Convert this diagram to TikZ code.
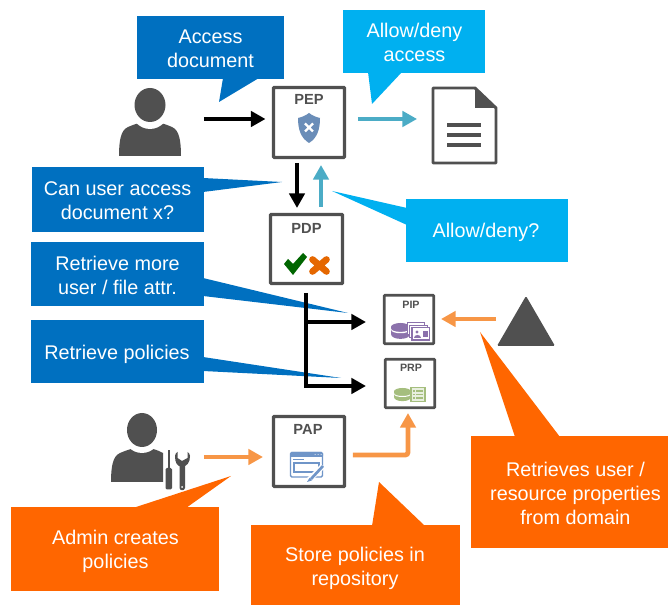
\documentclass[tikz,border=0pt]{standalone}
\usepackage{fontspec}
\setmainfont{Liberation Sans}
\usetikzlibrary{arrows.meta,calc}
\definecolor{dkblue}{HTML}{0070C0}
\definecolor{ltblue}{HTML}{00B0F0}
\definecolor{orng}{HTML}{FF6600}
\definecolor{teal2}{HTML}{4BACC6}
\definecolor{orar}{HTML}{F79646}
\definecolor{gry}{HTML}{505050}
\definecolor{shld}{HTML}{6A8DB8}
\definecolor{purp}{HTML}{8C72AC}
\definecolor{grn}{HTML}{A5BE7E}
\definecolor{winb}{HTML}{6F95C8}
\tikzset{
 sz/.style 2 args={minimum width=#1*0.75pt,minimum height=#2*0.75pt,inner sep=0pt,outer sep=0pt},
 panel/.style={fill=#1},
 calltext/.style={text=white,align=center,inner sep=0pt,font=\fontsize{14.85}{18}\selectfont},
 sysbox/.style={draw=gry,fill=white,line width=2.3pt,rounded corners=0.5pt},
 smallbox/.style={draw=gry,fill=white,line width=1.9pt,rounded corners=0.5pt},
 boxlab/.style={text=gry,font=\fontsize{11}{12}\bfseries\selectfont,inner sep=0pt,anchor=center},
 smalllab/.style={text=gry,font=\fontsize{8}{9}\bfseries\selectfont,inner sep=0pt,anchor=center},
 flow/.style={line width=3.6pt,-{Triangle[length=11pt,width=11.5pt]},draw=#1},
 spot/.style={inner sep=0pt,minimum size=1pt},
}
\begin{document}
\begin{tikzpicture}[x=0.75pt,y=-0.75pt]
\useasboundingbox (0,0) rectangle (668,605);
% callouts
\fill[dkblue] (223,78) -- (219,102) -- (259,78) -- cycle;
\node[panel=dkblue,sz={147}{63}] (c1) at (210.5,47.5) {};
\node[calltext] (c1t) at (210.5,49) {Access\\document};
\fill[ltblue] (368,72) -- (372,104) -- (402,72) -- cycle;
\node[panel=ltblue,sz={142}{63}] (c2) at (414,41.5) {};
\node[calltext] (c2t) at (414.5,42.7) {Allow/deny\\access};
\fill[dkblue] (203,178) -- (282,182) -- (203,192) -- cycle;
\node[panel=dkblue,sz={172}{65}] (c3) at (118,199.5) {};
\node[calltext] (c3t) at (117.5,200.7) {Can user access\\document x?};
\fill[ltblue] (407,208) -- (332,191) -- (407,225) -- cycle;
\node[panel=ltblue,sz={162}{63}] (c4) at (487,230.5) {};
\node[calltext] (c4t) at (486,232) {Allow/deny?};
\fill[dkblue] (203,278) -- (348,313) -- (203,296) -- cycle;
\node[panel=dkblue,sz={173}{64}] (c5) at (117.5,274) {};
\node[calltext] (c5t) at (117.5,275.2) {Retrieve more\\user / file attr.};
\fill[dkblue] (203,357) -- (341,378) -- (203,371) -- cycle;
\node[panel=dkblue,sz={173}{63}] (c6) at (117.5,351.5) {};
\node[calltext] (c6t) at (117,354) {Retrieve policies};
% system boxes
\node[sysbox,sz={71}{70}] (pep) at (309,122.5) {};
\node[boxlab] (peplab) at (309,99) {PEP};
\node[sysbox,sz={72}{69}] (pdp) at (306.5,249) {};
\node[boxlab] (pdplab) at (306.5,228.5) {PDP};
\node[smallbox,sz={49.5}{48.5}] (pip) at (409,319.5) {};
\node[smalllab] (piplab) at (411,305) {PIP};
\node[smallbox,sz={49.5}{48.5}] (prp) at (410,383.5) {};
\node[smalllab] (prplab) at (411,367.5) {PRP};
\node[sysbox,sz={71}{70}] (pap) at (309,451.5) {};
\node[boxlab] (paplab) at (308,429) {PAP};
% anchors for the end points of the flows
\node[spot] (user) at (203,119) {};
\node[spot] (doc) at (418,119) {};
\node[spot] (pepout) at (357,119) {};
\node[spot] (trunk) at (306,292) {};
\node[spot] (corner) at (306,386) {};
\node[spot] (dom) at (497,319) {};
\node[spot] (admin) at (203,457) {};
\node[spot] (papout) at (352,455) {};
\node[spot] (bend) at (408,455) {};
% flows
\draw[flow=black] (user) -- ($(pep.west |- user)+(-8,0)$);
\draw[flow=teal2] (pepout) -- (doc);
\draw[flow=black] (297,163) -- (297,208);
\draw[flow=teal2] (321,207) -- (321,165);
\draw[line width=3.6pt,black] (trunk) -- (corner);
\draw[flow=black] (306,322) -- (366,322);
\draw[flow=black] (304,386) -- (366,386);
\draw[flow=orar] (dom) -- (441,319);
\draw[flow=orar] (admin) -- (263,457);
\draw[flow=orar,rounded corners=2pt] (papout) -- (bend.center) -- (408,413);
% user
\fill[gry] (119,156) .. controls (119,140) and (121,130) .. (128,127) .. controls (133,125) and (135,124) .. (139,123) -- (161,123) .. controls (165,124) and (167,125) .. (172,127) .. controls (179,130) and (181,140) .. (181,156) -- cycle;
\fill[white] (150,107) ellipse [x radius=20,y radius=22];
\fill[gry] (150,105) ellipse [x radius=15.5,y radius=17];
% document
\draw[gry,line width=2.2pt,line join=round,fill=white] (433,88) -- (475,88) -- (496,108) -- (496,163) -- (433,163) -- cycle;
\fill[gry] (475,87) -- (497,108) -- (475,108) -- cycle;
\foreach \yy in {125,135,145}{\draw[gry,line width=2.5pt] (447,\yy) -- (481,\yy);}
% shield
\fill[shld] (309,113) .. controls (313,116) and (316,117) .. (320,118) .. controls (320,130) and (317,138) .. (309,143) .. controls (301,138) and (298,130) .. (298,118) .. controls (302,117) and (305,116) .. (309,113) -- cycle;
\draw[white,line width=1.7pt] (305,123.5) -- (313,131.5) (313,123.5) -- (305,131.5);
% check and cross
\fill[black!0!green!40!black] (284,264) -- (288,259) -- (293,264) -- (303,253) -- (307,257) -- (293,275) -- cycle;
\draw[orange!90!red!90!black,line width=5pt,line cap=round] (312.5,259.5) -- (326.5,271.5) (326.5,259.5) -- (312.5,271.5);
% PIP icon
\fill[purp] (391,327) -- (391,334) .. controls (391,340.5) and (410,340.5) .. (410,334) -- (410,327) -- cycle;
\fill[white] (391,328.5) .. controls (391,333) and (410,333) .. (410,328.5) -- (410,329.5) .. controls (410,334.5) and (391,334.5) .. (391,329.5) -- cycle;
\fill[purp] (400.5,327) ellipse [x radius=9.5,y radius=4];
\draw[purp,line width=0.7pt,fill=white] (407,322.5) rectangle (424,334);
\draw[purp,line width=0.7pt,fill=white] (409.5,325) rectangle (427,337);
\draw[purp,line width=0.8pt,fill=white] (412,327.5) rectangle (429.5,340);
\fill[purp] (417,332) circle (1.7);
\fill[purp] (413.5,338.5) .. controls (413.5,334.5) and (420.5,334.5) .. (420.5,338.5) -- cycle;
\fill[purp] (422.5,331.5) rectangle (427.5,337.5);
% PRP icon
\fill[grn] (394,392) -- (394,397) .. controls (394,402.5) and (411,402.5) .. (411,397) -- (411,392) -- cycle;
\fill[white] (394,393) .. controls (394,397) and (411,397) .. (411,393) -- (411,394) .. controls (411,398) and (394,398) .. (394,394) -- cycle;
\fill[grn] (402.5,391.5) ellipse [x radius=8.5,y radius=3.5];
\draw[grn,line width=0.8pt,fill=grn!25] (411,387.5) rectangle (425,401.5);
\foreach \yy in {391,394.5,398}{\draw[grn,line width=0.8pt] (413,\yy) -- (415,\yy) (416,\yy) -- (423,\yy);}
% admin
\fill[gry] (111,482) .. controls (111,466) and (113,456) .. (120,453) .. controls (125,451) and (127,450) .. (131,449) -- (153,449) .. controls (157,450) and (159,451) .. (163,453) -- (163,482) -- cycle;
\fill[white] (142,431) ellipse [x radius=20,y radius=22];
\fill[gry] (142,430) ellipse [x radius=15,y radius=17];
\fill[gry] (167.7,450) rectangle (170.3,470);
\fill[gry,rounded corners=1pt] (165.5,468) rectangle (172,489.5);
\fill[gry] (179.5,466) -- (185,466) -- (185,488) .. controls (185,491) and (179.5,491) .. (179.5,488) -- cycle;
\fill[gry] (175,456) .. controls (175,463) and (177,466) .. (182,467) .. controls (187,466) and (190,463) .. (190,456) .. controls (190,454) and (189,453) .. (187.5,452) -- (187.5,458) -- (182,461) -- (177.5,458) -- (177.5,452) .. controls (176,453) and (175,454) .. (175,456) -- cycle;
\fill[white] (182.2,487) circle (1);
% PAP icon
\draw[winb,line width=1.1pt,fill=white,rounded corners=1pt] (290.5,452.5) rectangle (322.5,477);
\fill[winb,rounded corners=1pt] (290,452) rectangle (323,457);
\foreach \xx in {315,318,321}{\fill[white] (\xx,454.5) circle (0.5);}
\draw[winb,line width=0.7pt] (293,459.5) -- (304,459.5);
\draw[winb,line width=0.8pt] (294,463) rectangle (319,472);
\draw[white,line width=4pt] (308,481) -- (323,466);
\draw[winb,line width=2pt] (311,479) -- (323,466);
\fill[winb] (307,482) -- (309.6,477.8) -- (312.2,480.3) -- cycle;
% orange callouts and triangle
\fill[gry,rounded corners=1pt] (526,296) -- (555,346) -- (497,346) -- cycle;
\fill[orng] (515,437) -- (480,332) -- (560,437) -- cycle;
\node[panel=orng,sz={197}{112}] (c7) at (569.5,492) {};
\node[calltext] (c7t) at (575.5,493.3) {Retrieves user /\\resource properties\\from domain};
\fill[orng] (133,508) -- (231,476) -- (186,508) -- cycle;
\node[panel=orng,sz={208}{84}] (c8) at (115,549) {};
\node[calltext] (c8t) at (115.5,551) {Admin creates\\policies};
\fill[orng] (372,526) -- (379,482) -- (425,526) -- cycle;
\node[panel=orng,sz={209}{80}] (c9) at (355.5,565) {};
\node[calltext] (c9t) at (355,568) {Store policies in\\repository};
\end{tikzpicture}
\end{document}
